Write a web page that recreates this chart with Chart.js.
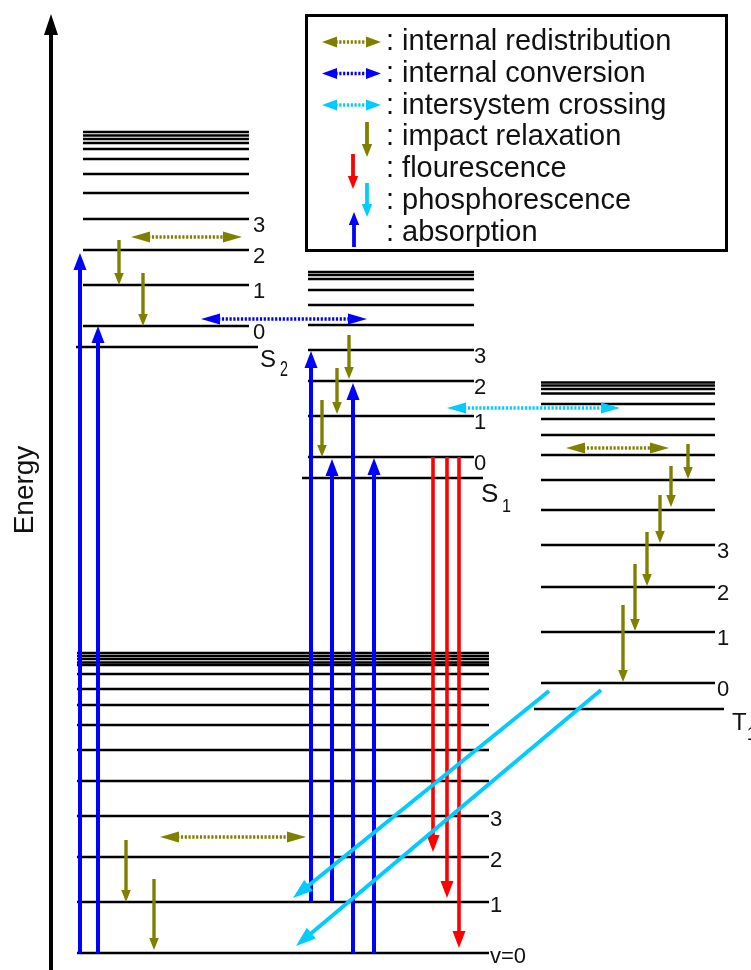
<!DOCTYPE html>
<html>
<head>
<meta charset="utf-8">
<script src="https://cdn.jsdelivr.net/npm/chart.js@4/dist/chart.umd.min.js"></script>
<style>
  html, body { margin: 0; padding: 0; background: #fff; overflow: hidden; }
  #wrap { position: relative; width: 751px; height: 970px; }
</style>
</head>
<body>
<div id="wrap"><canvas id="c"></canvas></div>
<script>
// ---- Energy levels (arbitrary energy units, 0 = bottom of the plot) ----
const S0_LEVELS = [17, 68, 113, 154, 189, 220, 245, 265, 281, 296, 305, 307.5, 311, 314, 317];
const S0_TICKS  = ['v=0', '1', '2', '3'];

const S1_ORIGIN = 492;
const S1_LEVELS = [513, 554, 589, 620, 645, 665, 680, 691, 695, 698];

const S2_ORIGIN = 623;
const S2_LEVELS = [644, 685, 720, 751, 777, 796, 811, 821, 827, 831, 834.5, 838];

const T1_ORIGIN = 261;
const T1_LEVELS = [287, 338, 383, 425, 460, 490, 515, 535, 551, 566, 576.5, 581, 584.5, 587.5];

const VIB_TICKS = ['0', '1', '2', '3'];

// ---- Transitions: horizontal position and start / end energies ----
const ABS_X    = [80, 98, 311, 332, 353, 374];
const ABS_FROM = [17, 17, 68, 68, 17, 17];
const ABS_TO   = [717, 644, 619, 511, 587, 512];

const FLUO_X    = [433, 447, 459];
const FLUO_FROM = [513, 513, 513];
const FLUO_TO   = [118, 72, 22];

const RELAX_X    = [119, 143, 349, 337, 322, 688, 671, 660, 647, 635, 623, 126, 154];
const RELAX_FROM = [730, 697, 635, 602, 570, 526, 504, 475, 438, 406, 365, 130, 91];
const RELAX_TO   = [685, 644, 591, 556, 513, 491, 463, 427, 384, 339, 288, 68, 20];

const REDIST_E  = [733, 522, 133];
const REDIST_X0 = [131, 566, 160];
const REDIST_X1 = [242, 669, 306];

const IC_E = [651];  const IC_X0 = [201]; const IC_X1 = [367];
const ISC_E = [562]; const ISC_X0 = [447]; const ISC_X1 = [620];

const PHOS_X0 = [549, 601];
const PHOS_E0 = [279, 280];
const PHOS_X1 = [293, 296];
const PHOS_E1 = [72, 24];

const LEGEND_TEXT = [': internal redistribution', ': internal conversion', ': intersystem crossing',
                     ': impact relaxation', ': flourescence', ': phosphorescence', ': absorption'];

// ---- Layout (horizontal extent of each electronic state) ----
const STATES = [
  { name: 'S0', levels: S0_LEVELS, ticks: S0_TICKS,  x0: 77,  x1: 489, tickGap: 1, tickDy: 2 },
  { name: 'S1', levels: S1_LEVELS, ticks: VIB_TICKS, x0: 308, x1: 474, tickGap: 0, tickDy: 5,
    origin: S1_ORIGIN, ox0: 302, ox1: 483 },
  { name: 'S2', levels: S2_LEVELS, ticks: VIB_TICKS, x0: 83,  x1: 249, tickGap: 4, tickDy: 5,
    origin: S2_ORIGIN, ox0: 76, ox1: 258 },
  { name: 'T1', levels: T1_LEVELS, ticks: VIB_TICKS, x0: 541, x1: 715, tickGap: 2, tickDy: 5,
    origin: T1_ORIGIN, ox0: 534, ox1: 724 }
];

const OLIVE = '#808000', BLUE = '#0000ff', CYAN = '#00ccff', RED = '#ff0000';
const FONT = '"Liberation Sans", Arial, sans-serif';

const STYLE = {
  axis:   { color: '#000', lw: 4,   len: 21, half: 7 },
  abs:    { color: BLUE,  lw: 4,   len: 17, half: 6.5 },
  fluo:   { color: RED,   lw: 3.6, len: 17, half: 6.5 },
  relax:  { color: OLIVE, lw: 3.4, len: 12, half: 4.8 },
  redist: { color: OLIVE, lw: 3.5, len: 19, half: 5.5, dash: [2.2, 1.6], dbl: true },
  ic:     { color: BLUE,  lw: 3.5, len: 19, half: 5.5, dash: [2.2, 1.6], dbl: true },
  isc:    { color: CYAN,  lw: 3.5, len: 19, half: 5.5, dash: [2.2, 1.6], dbl: true },
  phos:   { color: CYAN,  lw: 4,   len: 20, half: 7 }
};

// ---- Datasets ----
const datasets = [];
function addLevel(x0, x1, e) {
  datasets.push({ data: [{ x: x0, y: e }, { x: x1, y: e }], showLine: true,
                  borderColor: '#000', borderWidth: 2.7, pointRadius: 0, borderCapStyle: 'butt' });
}
STATES.forEach(s => {
  if (s.origin !== undefined) addLevel(s.ox0, s.ox1, s.origin);
  s.levels.forEach(e => addLevel(s.x0, s.x1, e));
});

function addArrow(p0, p1, style) {
  datasets.push({ data: [p0, p1], showLine: false, pointRadius: 0, pointHitRadius: 0, arrowStyle: style });
}
addArrow({ x: 51, y: 0 }, { x: 51, y: 956 }, STYLE.axis);
ABS_X.forEach((x, i) => addArrow({ x, y: ABS_FROM[i] }, { x, y: ABS_TO[i] }, STYLE.abs));
FLUO_X.forEach((x, i) => addArrow({ x, y: FLUO_FROM[i] }, { x, y: FLUO_TO[i] }, STYLE.fluo));
RELAX_X.forEach((x, i) => addArrow({ x, y: RELAX_FROM[i] }, { x, y: RELAX_TO[i] }, STYLE.relax));
REDIST_E.forEach((e, i) => addArrow({ x: REDIST_X0[i], y: e }, { x: REDIST_X1[i], y: e }, STYLE.redist));
IC_E.forEach((e, i) => addArrow({ x: IC_X0[i], y: e }, { x: IC_X1[i], y: e }, STYLE.ic));
ISC_E.forEach((e, i) => addArrow({ x: ISC_X0[i], y: e }, { x: ISC_X1[i], y: e }, STYLE.isc));
PHOS_X0.forEach((x, i) => addArrow({ x, y: PHOS_E0[i] }, { x: PHOS_X1[i], y: PHOS_E1[i] }, STYLE.phos));

// ---- Drawing helpers ----
function drawArrow(ctx, x0, y0, x1, y1, s) {
  const dx = x1 - x0, dy = y1 - y0, L = Math.hypot(dx, dy);
  const ux = dx / L, uy = dy / L;
  const back = s.len * 0.9;
  ctx.save();
  ctx.strokeStyle = s.color; ctx.fillStyle = s.color;
  ctx.lineWidth = s.lw; ctx.lineCap = 'butt';
  ctx.setLineDash(s.dash || []);
  ctx.beginPath();
  ctx.moveTo(x0 + (s.dbl ? ux * back : 0), y0 + (s.dbl ? uy * back : 0));
  ctx.lineTo(x1 - ux * back, y1 - uy * back);
  ctx.stroke();
  ctx.setLineDash([]);
  const head = (tx, ty, vx, vy) => {
    const bx = tx - vx * s.len, by = ty - vy * s.len;
    ctx.beginPath();
    ctx.moveTo(tx, ty);
    ctx.lineTo(bx - vy * s.half, by + vx * s.half);
    ctx.lineTo(bx + vy * s.half, by - vx * s.half);
    ctx.closePath();
    ctx.fill();
  };
  head(x1, y1, ux, uy);
  if (s.dbl) head(x0, y0, -ux, -uy);
  ctx.restore();
}

const arrowPlugin = {
  id: 'arrows',
  afterDatasetsDraw(chart) {
    const ctx = chart.ctx;
    chart.data.datasets.forEach((ds, i) => {
      if (!ds.arrowStyle) return;
      const pts = chart.getDatasetMeta(i).data;
      drawArrow(ctx, pts[0].x, pts[0].y, pts[1].x, pts[1].y, ds.arrowStyle);
    });
  }
};

const textPlugin = {
  id: 'texts',
  afterDraw(chart) {
    const ctx = chart.ctx, xs = chart.scales.x, ys = chart.scales.y;
    ctx.save();
    ctx.fillStyle = '#111';
    ctx.textBaseline = 'alphabetic';
    ctx.textAlign = 'left';

    // vibrational level numbers
    ctx.font = '22px ' + FONT;
    STATES.forEach(s => {
      s.ticks.forEach((t, k) => {
        const px = xs.getPixelForValue(s.x1) + s.tickGap;
        const py = ys.getPixelForValue(s.levels[k]) + s.tickDy + 8;
        ctx.fillText(t, px, py);
      });
    });

    // state names with subscripts
    const sub = (main, idx, x, y, mainSize, subSize, subDx, subDy, subScale) => {
      ctx.font = mainSize + 'px ' + FONT;
      ctx.fillText(main, x, y);
      ctx.save();
      ctx.translate(x + subDx, y + subDy);
      ctx.scale(subScale, 1);
      ctx.font = subSize + 'px ' + FONT;
      ctx.fillText(idx, 0, 0);
      ctx.restore();
    };
    const s2 = STATES[2], s1 = STATES[1], t1 = STATES[3];
    sub('S', '2', xs.getPixelForValue(s2.ox1) + 2, ys.getPixelForValue(s2.origin) + 20, 24, 22, 20, 9, 0.65);
    sub('S', '1', xs.getPixelForValue(s1.ox1) - 2, ys.getPixelForValue(s1.origin) + 24, 26, 18, 21, 10, 0.9);
    sub('T', '1', xs.getPixelForValue(t1.ox1) + 8, ys.getPixelForValue(t1.origin) + 21, 24, 18, 15, 10, 0.9);

    // energy axis title
    ctx.save();
    ctx.translate(33, 490);
    ctx.rotate(-Math.PI / 2);
    ctx.textAlign = 'center';
    ctx.font = '28px ' + FONT;
    ctx.fillText('Energy', 0, 0);
    ctx.restore();

    // legend box
    ctx.fillStyle = '#fff';
    ctx.fillRect(306.5, 15.5, 420, 235);
    ctx.strokeStyle = '#000';
    ctx.lineWidth = 3;
    ctx.strokeRect(306.5, 15.5, 420, 235);
    ctx.fillStyle = '#111';
    ctx.font = '29px ' + FONT;
    LEGEND_TEXT.forEach((t, i) => ctx.fillText(t, 386, 50 + 31.8 * i));

    const dot = { lw: 3.6, len: 15, half: 5.5, dash: [2.2, 1.6], dbl: true };
    const small = { lw: 3.8, len: 13, half: 5.2 };
    drawArrow(ctx, 322, 42, 381, 42, Object.assign({ color: OLIVE }, dot));
    drawArrow(ctx, 322, 73.5, 381, 73.5, Object.assign({ color: BLUE }, dot));
    drawArrow(ctx, 322, 105, 381, 105, Object.assign({ color: CYAN }, dot));
    drawArrow(ctx, 367, 122, 367, 157, Object.assign({ color: OLIVE }, small));
    drawArrow(ctx, 353, 154, 353, 189, Object.assign({ color: RED }, small));
    drawArrow(ctx, 367, 183, 367, 217, Object.assign({ color: CYAN }, small));
    drawArrow(ctx, 354, 247, 354, 212, Object.assign({ color: BLUE }, small));
    ctx.restore();
  }
};

new Chart(document.getElementById('c'), {
  type: 'scatter',
  data: { datasets },
  options: {
    responsive: true,
    maintainAspectRatio: false,
    animation: false,
    devicePixelRatio: 1,
    layout: { padding: 0 },
    plugins: { legend: { display: false }, tooltip: { enabled: false }, title: { display: false } },
    events: [],
    scales: {
      x: { type: 'linear', min: 0, max: 751, display: false },
      y: { type: 'linear', min: 0, max: 970, display: false }
    }
  },
  plugins: [arrowPlugin, textPlugin]
});
</script>
</body>
</html>
